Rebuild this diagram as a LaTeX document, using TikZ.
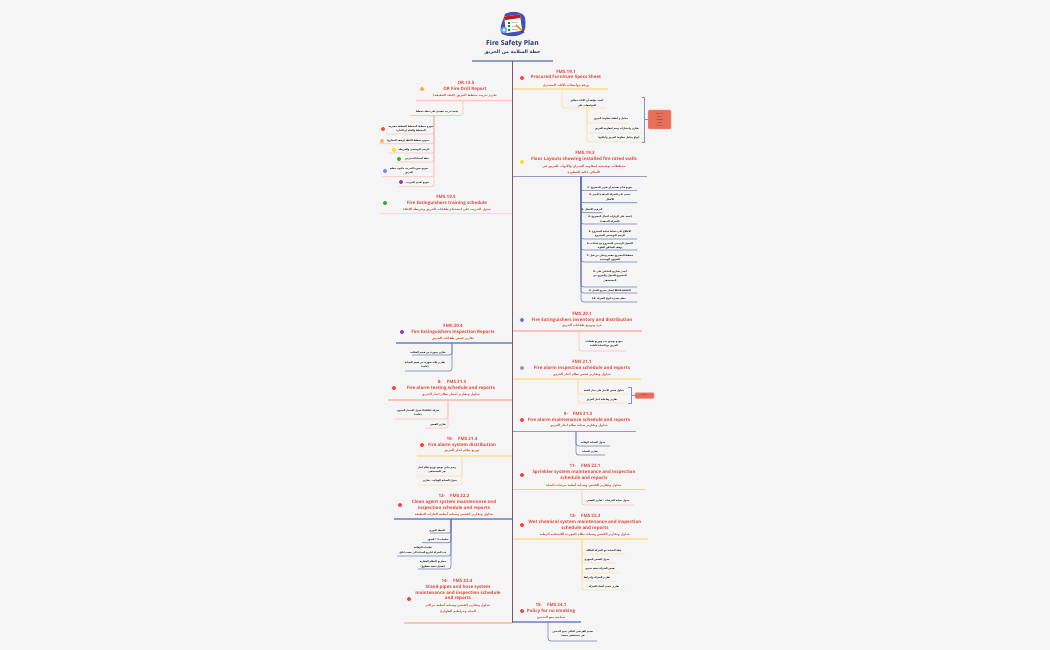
\documentclass[tikz,border=0pt]{standalone}
\usepackage{fontspec}
\setmainfont{Open Sans}
\newfontfamily\arabicfont[Script=Arabic]{DejaVu Sans}
\TeXXeTstate=1
\usetikzlibrary{shapes.geometric}
\definecolor{bgc}{HTML}{F5F5F5}
\definecolor{navyt}{HTML}{2B3467}
\definecolor{redt}{HTML}{DD4A3E}
\definecolor{ylw}{HTML}{FDE2A6}
\definecolor{pnk}{HTML}{F9C3B8}
\definecolor{blu}{HTML}{8E9CCB}
\definecolor{nvy}{HTML}{4F5FA8}
\definecolor{spinec}{HTML}{7D5468}
\definecolor{boxc}{HTML}{E8705A}
\definecolor{brk}{HTML}{8A8DC2}
\newcommand\AR[1]{{\arabicfont\beginR #1\endR}}
\tikzset{
 x=1pt,y=-1pt,
 tlat/.style={inner sep=0,text=redt,font=\fontsize{4.5}{5.8}\selectfont\bfseries},
 tarb/.style={inner sep=0,text=redt!90!black,align=center,font=\fontsize{3.0}{6}\selectfont\bfseries},
 leaf/.style={inner sep=0,text=black,align=center,font=\fontsize{2.3}{4.4}\selectfont\bfseries},
 mainy/.style={draw=ylw,line width=1.4pt},
 mainp/.style={draw=pnk,line width=1.4pt},
 mainb/.style={draw=blu,line width=1.8pt},
 subky/.style={draw=ylw,line width=.7pt,rounded corners=2.5pt},
 subkp/.style={draw=pnk,line width=.7pt,rounded corners=2.5pt},
 subkb/.style={draw=nvy!85!white,line width=.6pt,rounded corners=2.5pt},
 mrk/.style={circle,inner sep=0,minimum size=4pt,fill=#1},
 bracketl/.style={draw=brk,line width=.7pt},
 flagbox/.style={fill=boxc,draw=boxc!60!white,line width=.4pt,rounded corners=1pt,inner sep=0,text=black!70!red,align=center,font=\fontsize{1.5}{3}\selectfont},
}
% main line: style, name, x1, x2, y  (defines name-a at x1, name-b at x2)
\newcommand\mline[5]{\coordinate (#2a) at (#3,#5);\coordinate (#2b) at (#4,#5);\draw[#1] (#2a) -- (#2b);}
% child line: style, name, parent coordinate, x end, y
\newcommand\kid[5]{\coordinate (#2) at (#4,#5);\draw[#1] (#3) |- (#2);}
\begin{document}
\begin{tikzpicture}
\useasboundingbox[fill=bgc] (0,0) rectangle (1050,650);
% icon
\fill[fill=nvy!85!blue] (505,14) .. controls (512,10) and (524,12) .. (525,18) .. controls (526,24) and (526,30) .. (522,34) .. controls (516,37) and (508,37) .. (502,34) .. controls (498,28) and (503,22) .. (505,14);
\fill[white,rotate around={8:(513,23)}] (505,15.5) rectangle (521,32);
\fill[red!75!black!90,rotate around={8:(513,23)}] (505,15.5) rectangle (521,19);
\foreach \yy in {22,25.5,29}{\fill[green!60!black] (508,\yy) rectangle (510,\yy+1.6);\fill[black!25] (511.5,\yy+.3) rectangle (518,\yy+1);}
\draw[orange!90!yellow,line width=1.6pt] (516,25) -- (522.5,31);
\fill[nvy!60!black] (522,30) -- (524.5,33) -- (521,32) -- cycle;
\fill[blue!55!cyan!60!white] (504,30) circle (3.2);
\fill[white] (504,30) circle (1.4);
% title
\node[inner sep=0,text=navyt,font=\fontsize{6.8}{7}\selectfont\bfseries] (title) at (512.5,44) {Fire Safety Plan};
\node[inner sep=0,text=navyt,font=\fontsize{4.7}{7}\selectfont\bfseries] (titlear) at (512.5,52.5) {\AR{خطة السلامة من الحريق}};
\mline{draw=blu,line width=2pt}{cb}{472}{553}{61}
\coordinate (sp1) at (512,61); \coordinate (sp2) at (512,623);

% ---------- main branch lines
\mline{mainy}{ra}{512}{608}{89}
\mline{mainb}{rb}{512}{647}{176.5}
\mline{mainp}{rc}{512}{642}{331}
\mline{mainy}{rd}{512}{641}{379}
\mline{mainb}{re}{512}{636}{431.5}
\mline{mainp}{rf}{512}{646}{489.5}
\mline{mainy}{rg}{512}{648}{539}
\mline{mainb}{rh}{512}{581}{622}
\mline{mainp}{la}{512}{416}{100.5}
\mline{mainy}{lb}{512}{380}{213.7}
\mline{mainb}{lc}{512}{396}{343}
\mline{mainp}{ld}{512}{388}{400}
\mline{mainy}{le}{512}{417}{456}
\mline{mainb}{lf}{512}{394}{519}
\mline{mainp}{lg}{512}{404}{623}
\draw[draw=spinec,line width=.9pt] (sp1) -- (sp2);

% ---------- right 1
\node[tlat] (t1a) at (566,71.7) {FMS.19.1};
\node[tlat] (t1b) at (566,77.7) {Procured Furniture Specs Sheet};
\node[tarb] (t1c) at (566,85) {\AR{ورقة مواصفات الأثاث المشتري}};
\node[mrk=red!75!white] (m1) at (522,78) {};
\coordinate (p1) at (562,89);
\kid{subky}{k1}{p1}{606}{108}
\node[leaf] at (587,103) {\AR{أعتمد مؤلفه أن الأثاث مطابق}\\\AR{للمواصفات على}};
\coordinate (p1b) at (587,108);
\kid{subky}{k1a}{p1b}{628}{123}
\kid{subky}{k1b}{p1b}{642}{133}
\kid{subky}{k1c}{p1b}{643}{142}
\node[leaf] at (611,119) {\AR{معامل و أنظمة مقاومة الحريق}};
\node[leaf] at (617,129) {\AR{تقارير واختبارات وسم لمقاومة الحريق}};
\node[leaf] at (619,138) {\AR{أنواع معامل مقاومة الحريق وأماكنها}};
\coordinate (br1a) at (641.5,97); \coordinate (br1b) at (641.5,142);
\draw[bracketl] (br1a) -- ++(2.5,0) -- ++(0,45) -- (br1b);
\node[flagbox,minimum width=23pt,minimum height=19pt] (fb1) at (659.5,119.5) {\AR{متأخر التنفيذ}\\\AR{مراجعة}\\\AR{المخططات}\\\AR{والتقارير}\\\AR{تم التحديث}};
\coordinate (br1m) at (644,119.5);
\draw[draw=brk,line width=.4pt] (br1m) -- (fb1);

% ---------- right 2
\node[tlat] (t2a) at (585,153) {FMS.19.3};
\node[tlat] (t2b) at (584,159.5) {Floor Layouts showing installed fire rated walls};
\node[tarb] (t2c) at (584,169) {\AR{مخططات توضيحية لمقاومة الجدران والأبواب للحريق في}\\\AR{الأماكن عالية الخطورة}};
\node[mrk=yellow!85!orange] (m2) at (522,162) {};
\coordinate (p2) at (581,176.5);
\foreach \nm/\xe/\yy in {a/637/190.7,b/637/202.7,c/602/212.7,d/637/224,e/637/239,f/637/250,g/637/262,h/637/287,i/637/293,j/637/302}{
 \kid{subkb}{k2\nm}{p2}{\xe}{\yy}
}
\node[leaf] at (610,188) {\AR{نموذج قائم تقسيم أو تقرير المشروع .1}};
\node[leaf] at (610,197) {\AR{تعميم على الشركة المنفذة لتأخير .2}\\\AR{الأعمال}};
\node[leaf] at (592,210) {\AR{الترقيم الأعمال .3}};
\node[leaf] at (610,219) {\AR{إعتمد على الزيارات أعمال المشروع .4}\\\AR{(الشركة المنفذة)}};
\node[leaf] at (610,234) {\AR{الاطلاع على نشاط عملية المشروع .5}\\\AR{الرسم التوضيحي المشروع}};
\node[leaf] at (610,246) {\AR{المحول الرئيسي للمشروع مع عمليات .6}\\\AR{توقف المناطق العلوية}};
\node[leaf] at (610,258) {\AR{مخطط المشروع مفعم ويمكن من قبل .7}\\\AR{الشؤون الهندسية}};
\node[leaf] at (610,276) {\AR{أصدر تصاريح العاملين على .8}\\\AR{المشروع للدخول والخروج من}\\\AR{المستشفى}};
\node[leaf] at (610,290.5) {\AR{\beginL Work permit\endL{} إصدار تصريح العمل .9}};
\node[leaf] at (609,299) {\AR{معلم مشيء أنواع الشركة .10}};

% ---------- right 3
\node[tlat] (t3a) at (582,314) {FMS.20.1};
\node[tlat] (t3b) at (582,320) {Fire Extinguishers inventory and distribution};
\node[tarb] (t3c) at (582,326) {\AR{جرد وتوزيع طفايات الحريق}};
\node[mrk=blue!55!white] (m3) at (522,320) {};
\coordinate (p3) at (579,331);
\kid{subkp}{k3}{p3}{626}{351}
\node[leaf] at (604,344) {\AR{نموذج توضيح عدد وتوزيع طفايات}\\\AR{الحريق مع الصيانة العامة}};

% ---------- right 4
\node[tlat] (t4a) at (582,362) {FMS 21.1};
\node[tlat] (t4b) at (582,368) {Fire alarm inspection schedule and reports};
\node[tarb] (t4c) at (582,375) {\AR{جداول وتقارير فحص نظام انذار الحريق}};
\node[mrk=black!40] (m4) at (522,368) {};
\coordinate (p4) at (578,379);
\kid{subky}{k4a}{p4}{627}{394}
\kid{subky}{k4b}{p4}{625}{403}
\node[leaf] at (604,390.5) {\AR{جداول فحص الانذار على مدار السنة}};
\node[leaf] at (602,399.5) {\AR{تقارير وفاعلية انذار الحريق}};
\coordinate (br4a) at (628,387); \coordinate (br4b) at (628,403);
\draw[bracketl] (br4a) -- ++(3,0) -- ++(0,16) -- (br4b);
\node[flagbox,minimum width=19pt,minimum height=6pt] (fb4) at (644.5,395.5) {\AR{تم التنفيذ}};
\coordinate (br4m) at (631,395.5);
\draw[draw=brk,line width=.4pt] (br4m) -- (fb4);

% ---------- right 5
\node[tlat] (t5a) at (578,414) {9-\hspace{5pt}FMS 21.3};
\node[tlat] (t5b) at (579,420) {Fire alarm maintenance schedule and reports};
\node[tarb] (t5c) at (579,426) {\AR{جداول وتقارير صيانة نظام انذار الحريق}};
\node[mrk=red!75!white] (m5) at (522,420) {};
\coordinate (p5) at (576,431.5);
\kid{subkb}{k5a}{p5}{610}{446}
\kid{subkb}{k5b}{p5}{605}{455}
\node[leaf] at (593,442.5) {\AR{جدول الصيانة الوقائية}};
\node[leaf] at (590,451.5) {\AR{تقارير الصيانة}};

% ---------- right 6
\node[tlat] (t6a) at (585,466) {11-\hspace{5pt}FMS 22.1};
\node[tlat,align=center] (t6b) at (584,475) {Sprinkler system maintenance and inspection\\schedule and reports};
\node[tarb] (t6c) at (584,485) {\AR{جداول وتقارير الفحص وصيانة أنظمة مرشات المياه}};
\node[mrk=red!75!white] (m6) at (522,475) {};
\coordinate (p6) at (582,489.5);
\kid{subkp}{k6}{p6}{634}{505}
\node[leaf] at (608,501) {\AR{جدول صيانة المرشات ، تقارير الفحص}};

% ---------- right 7
\node[tlat] (t7a) at (585,516) {13-\hspace{5pt}FMS 22.3};
\node[tlat,align=center] (t7b) at (585,525) {Wet chemical system maintenance and inspection\\schedule and reports};
\node[tarb] (t7c) at (585,534.5) {\AR{جداول وتقارير الفحص وصيانة نظام الموردة الكيميائية الرطبة}};
\node[mrk=red!75!white] (m7) at (522,525) {};
\coordinate (p7) at (582,539);
\kid{subky}{k7a}{p7}{625}{554}
\kid{subky}{k7b}{p7}{616}{563}
\kid{subky}{k7c}{p7}{620}{573}
\kid{subky}{k7d}{p7}{616}{581}
\kid{subky}{k7e}{p7}{625}{590}
\node[leaf] at (604,550.5) {\AR{خطة الصيانة مع الشركة المالكة}};
\node[leaf] at (597,559.5) {\AR{جدول الفحص الشهري}};
\node[leaf] at (600,568.5) {\AR{فحص الشركة نصف سنوي}};
\node[leaf] at (597,577.5) {\AR{تقارير الشركة وإجراءها}};
\node[leaf] at (604,586.5) {\AR{تقارير تعميم أسماء الشركة}};

% ---------- right 8
\node[tlat] (t8a) at (551,605) {15-\hspace{5pt}FMS 24.1};
\node[tlat] (t8b) at (551,611) {Policy for no smoking};
\node[tarb] (t8c) at (551,617.5) {\AR{سياسة منع التدخين}};
\node[mrk=red!75!white] (m8) at (522,611) {};
\coordinate (p8) at (548,622);
\kid{subkb}{k8}{p8}{597}{641}
\node[leaf] at (573,634) {\AR{تعميم الفرنسي المالي يمنع التدخين}\\\AR{في مستشفى جميعة}};

% ---------- left a
\node[tlat] (tlaa) at (466,83) {OR.13.5};
\node[tlat] (tlab) at (465,89.5) {OR Fire Drill Report};
\node[tarb] (tlac) at (465,96) {\AR{تقرير تدريب مخطط الحريق (كنقد الحقيقة)}};
\node[mrk=orange!70!white] (mla) at (422,89) {};
\coordinate (pla) at (463,100.5);
\kid{subkp}{kla}{pla}{410}{115.5}
\node[leaf] at (437,111.5) {\AR{قيمة تدريب تنفيذي على خطة مخطط}};
\coordinate (plb) at (434,115.5);
\foreach \nm/\xe/\yy in {a/386/134,b/379/143.7,c/389/153,d/396/162,e/382/176.7,f/399/186.7}{
 \kid{subkp}{kl\nm x}{plb}{\xe}{\yy}
}
\node[leaf] at (411,129) {\AR{نموذج مخطط المخطط المنطقة مقترحة}\\\AR{المخطط وللعلم ان الادارة}};
\node[leaf] at (408,140.5) {\AR{نموذج مخطط الاخلاء (وصف المخارج)}};
\node[leaf] at (414,150) {\AR{الرسم التوضيحي والخريطة}};
\node[leaf] at (417,159) {\AR{خطة أسماء المتدربين}};
\node[leaf] at (409,171) {\AR{نموذج صورة التدريب مكتوب خطية}\\\AR{الحريق}};
\node[leaf] at (418,182.5) {\AR{نموذج تقييم التدريب}};
\node[mrk=red!70!white] (mla1) at (383,129) {};
\node[mrk=orange!60!white] (mla2) at (382,141) {};
\node[mrk=yellow!85!orange] (mla3) at (394,150) {};
\node[mrk=green!65!black!80] (mla4) at (399,159) {};
\node[mrk=blue!50!white] (mla5) at (385,171) {};
\node[mrk=blue!50!purple!75] (mla6) at (401,182) {};

% ---------- left b
\node[tlat] (tlba) at (446,196.5) {FMS.19.5};
\node[tlat] (tlbb) at (447,203) {Fire Extinguishers training schedule};
\node[tarb] (tlbc) at (447,209.5) {\AR{جدول التدريب على استخدام طفايات الحريق وخريطة الإخلاء}};
\node[mrk=green!65!black!85] (mlb) at (385,203) {};

% ---------- left c
\node[tlat] (tlca) at (453,326) {FMS 20.4};
\node[tlat] (tlcb) at (453,332) {Fire Extinguishers Inspection Reports};
\node[tarb] (tlcc) at (453,339) {\AR{تقارير فحص طفايات الحريق}};
\node[mrk=blue!50!purple!75] (mlc) at (402,332) {};
\coordinate (plc) at (452,343);
\kid{subkb}{klc1}{plc}{412}{355}
\kid{subkb}{klc2}{plc}{405}{371}
\node[leaf] at (428,353) {\AR{تقارير شهرية من قسم السلامة}};
\node[leaf] at (425,365) {\AR{تقارير ثلاثة شهرية من قسم الصيانة}\\\AR{(عامة)}};

% ---------- left d
\node[tlat] (tlda) at (452,382) {8-\hspace{5pt}FMS 21.3};
\node[tlat] (tldb) at (451,388) {Fire alarm testing schedule and reports};
\node[tarb] (tldc) at (451,395) {\AR{جداول وتقارير اختبار نظام انذار الحريق}};
\node[mrk=red!75!white] (mld) at (394,388) {};
\coordinate (pld) at (448,400);
\kid{subkp}{kld1}{pld}{395}{419}
\kid{subkp}{kld2}{pld}{425}{428}
\node[leaf] at (418,413) {\AR{شركة \beginL Vendor\endL{} جدول الاختبار السنوي}\\\AR{(عامة)}};
\node[leaf] at (438,424.5) {\AR{تقارير الفحص}};

% ---------- left e
\node[tlat] (tlea) at (462,439) {10-\hspace{5pt}FMS 21.4};
\node[tlat] (tleb) at (462,445) {Fire alarm system distribution};
\node[tarb] (tlec) at (462,451) {\AR{توزيع نظام انذار الحريق}};
\node[mrk=red!75!white] (mle) at (422,445) {};
\coordinate (ple) at (462,456);
\kid{subky}{kle1}{ple}{415}{476}
\kid{subky}{kle2}{ple}{418}{485}
\node[leaf] at (437,470) {\AR{رسم بياني يوضح توزيع نظام انذار}\\\AR{في المستشفى}};
\node[leaf] at (440,481) {\AR{جدول الصيانة الوقائية ، تقارير}};

% ---------- left f
\node[tlat] (tlfa) at (454,496) {12-\hspace{5pt}FMS 22.2};
\node[tlat,align=center] (tlfb) at (454,505) {Clean agent system maintenance and\\inspection schedule and reports};
\node[tarb] (tlfc) at (454,514) {\AR{جداول وتقارير الفحص وصيانة أنظمة الغازات النظيفة}};
\node[mrk=red!75!white] (mlf) at (400,505) {};
\coordinate (plf) at (451,519);
\kid{subkb}{klf1}{plf}{430}{533}
\kid{subkb}{klf2}{plf}{422}{542.7}
\kid{subkb}{klf3}{plf}{397}{556}
\kid{subkb}{klf4}{plf}{418}{569}
\node[leaf] at (437,530.5) {\AR{الخطة الدوري}};
\node[leaf] at (438,540) {\AR{تعليمات 1 * الشهر}};
\node[leaf] at (423,550.5) {\AR{تعليمات الوقائية}\\\AR{عند الشركة لتاريخ الصيانة الى حسب ابلاغ}};
\node[leaf] at (433,564.5) {\AR{مشاريع النظام العقارية}\\\AR{(تفعيل تنفيذ مقطوع)}};

% ---------- left g
\node[tlat] (tlga) at (457,581) {14-\hspace{5pt}FMS 22.4};
\node[tlat,align=center] (tlgb) at (458,593) {Stand pipes and hose system\\maintenance and inspection schedule\\and reports};
\node[tarb] (tlgc) at (458,608) {\AR{جداول وتقارير الفحص وصيانة أنظمة مراكيز}\\\AR{المياه وخراطيم الطوارئ}};
\node[mrk=red!75!white] (mlg) at (409,599) {};
\end{tikzpicture}
\end{document}
